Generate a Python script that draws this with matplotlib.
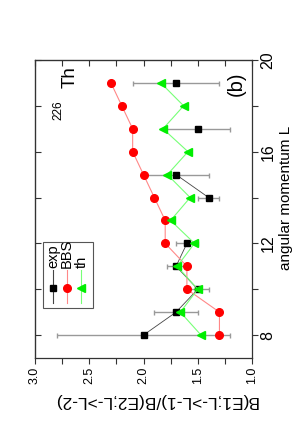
import numpy as np
import matplotlib
matplotlib.use("Agg")
import matplotlib.pyplot as plt
from matplotlib.patches import Rectangle
from matplotlib.lines import Line2D

plt.rcParams['font.family'] = ['Liberation Sans', 'DejaVu Sans']

# data
L = [8, 9, 10, 11, 12, 13, 14, 15, 16, 17, 18, 19]
nan = np.nan
exp_vals = [2.0, 1.7, 1.5, 1.7, 1.6, nan, 1.4, 1.7, nan, 1.5, nan, 1.7]
exp_err = [0.8, 0.2, 0.1, 0.08, 0.1, nan, 0.1, 0.3, nan, 0.3, nan, 0.4]
bbs_vals = [1.3, 1.3, 1.6, 1.6, 1.8, 1.8, 1.9, 2.0, 2.1, 2.1, 2.2, 2.3]
th_vals = [1.47, 1.66, 1.5, 1.69, 1.53, 1.75, 1.57, 1.78, 1.59, 1.82, 1.63, 1.84]
legend_labels = ['exp', 'BBS', 'th']
L_ticks = [8, 12, 16, 20]
B_ticks = [3.0, 2.5, 2.0, 1.5, 1.0]

W, H = 303, 436
fig = plt.figure(figsize=(W / 100, H / 100), dpi=100)
ax = fig.add_axes([35 / W, 78 / H, 217 / W, 298 / H])

ax.errorbar(exp_vals, L, xerr=exp_err, fmt='none', ecolor='#999999',
            elinewidth=1.0, capsize=1.8, capthick=1.0, zorder=2)
ax.plot(exp_vals, L, color='#444444', lw=0.6, marker='s', ms=5,
        mfc='black', mec='black', zorder=3)
ax.plot(bbs_vals, L, color='#ff8888', lw=0.8, marker='o', ms=5.5,
        mfc='#ff0000', mec='#ff0000', zorder=4)
ax.plot(th_vals, L, color='#77ff77', lw=0.8, marker='<', ms=6,
        mfc='#00ee00', mec='#00ee00', zorder=5)

ax.set_xlim(3.0, 1.0)
ax.set_ylim(7, 20)

ax.set_xticks(B_ticks)
ax.set_xticklabels(['%.1f' % v for v in B_ticks], rotation=90, fontsize=9)
ax.set_xticks([2.75, 2.25, 1.75, 1.25], minor=True)
ax.yaxis.tick_right()
ax.set_yticks(L_ticks)
ax.set_yticklabels([str(v) for v in L_ticks], rotation=90, fontsize=11.5,
                   va='center')
ax.set_yticks([10, 14, 18], minor=True)
for axis in ('x', 'y'):
    ax.tick_params(axis=axis, which='both', direction='out', length=4,
                   width=0.8, color='#333333', pad=2)

for s in ax.spines.values():
    s.set_color('#333333')
    s.set_linewidth(0.9)

# inner mirror ticks
sx = ax.secondary_xaxis('top')
sx.set_xticks([3.0, 2.75, 2.5, 2.25, 2.0, 1.75, 1.5, 1.25, 1.0])
sx.tick_params(direction='in', length=4, width=0.8, color='#333333',
               labeltop=False)
sy = ax.secondary_yaxis('left')
sy.set_yticks([8, 10, 12, 14, 16, 18, 20])
sy.tick_params(direction='in', length=4, width=0.8, color='#333333',
               labelleft=False)

# axis labels
fig.text(286 / W, 1 - 198 / H, 'angular momentum L', rotation=90,
         ha='center', va='center', fontsize=11)
fig.text(156 / W, 1 - 400 / H, 'B(E1;L->L-1)/B(E2;L->L-2)', rotation=180,
         ha='center', va='center', fontsize=12.5)

# annotations (rotated like the rest of the figure)
fig.text(70 / W, 1 - 88 / H, 'Th', rotation='vertical',
         ha='center', va='bottom', fontsize=13.5)
fig.text(58 / W, 1 - 120 / H, '226', rotation='vertical',
         ha='center', va='bottom', fontsize=8.5)
fig.text(236 / W, 1 - 96 / H, '(b)', rotation='vertical',
         ha='center', va='bottom', fontsize=14.5)

# manual rotated legend
ax.add_patch(Rectangle((0.037, 0.168), 0.23, 0.221, transform=ax.transAxes,
                       fill=True, facecolor='white', edgecolor='#555555',
                       lw=0.8, zorder=6))
styles = [dict(color='#444444', marker='s', mfc='black', mec='black', ms=5),
          dict(color='#ff8888', marker='o', mfc='#ff0000', mec='#ff0000', ms=5.5),
          dict(color='#77ff77', marker='<', mfc='#00ee00', mec='#00ee00', ms=6)]
xs = [0.083, 0.147, 0.214]
for x, st, lab in zip(xs, styles, legend_labels):
    ax.add_line(Line2D([x, x], [0.185, 0.295], transform=ax.transAxes,
                       lw=0.8, zorder=7, color=st['color']))
    ax.add_line(Line2D([x], [0.235], transform=ax.transAxes, ls='none',
                       marker=st['marker'], mfc=st['mfc'], mec=st['mec'],
                       ms=st['ms'], zorder=8))
    ax.text(x, 0.302, lab, rotation=90, transform=ax.transAxes,
            ha='center', va='bottom', fontsize=10.5, zorder=8)

fig.savefig('out.png', dpi=100)
